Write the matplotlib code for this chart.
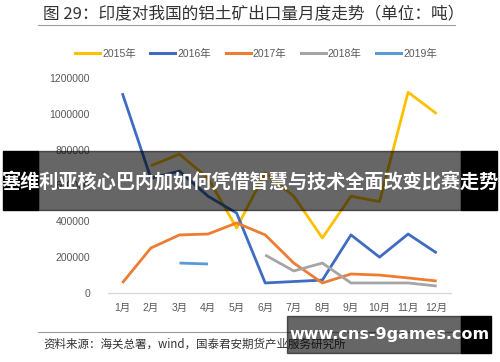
import numpy as np
import matplotlib
matplotlib.use("Agg")
import matplotlib.pyplot as plt
from matplotlib.patches import Rectangle
from matplotlib.lines import Line2D

plt.rcParams['font.family'] = ['Liberation Sans', 'Noto Sans CJK SC', 'DejaVu Sans']

months = ["1月", "2月", "3月", "4月", "5月", "6月", "7月", "8月", "9月", "10月", "11月", "12月"]
nan = np.nan
y2015 = [nan, 710000, 775000, 640000, 363000, 670000, 540000, 307000, 540000, 510000, 1120000, 1000000]
y2016 = [1115000, 640000, 680000, 540000, 446000, 56000, 64000, 72000, 324000, 200000, 329000, 223000]
y2017 = [56000, 251000, 324000, 329000, 391000, 324000, 167000, 56000, 106000, 100000, 84000, 67000]
y2018 = [nan, nan, nan, nan, nan, 212000, 123000, 167000, 56000, 56000, 56000, 39000]
y2019 = [nan, nan, 167000, 162000, nan, nan, nan, nan, nan, nan, nan, nan]
series = ["2015年", "2016年", "2017年", "2018年", "2019年"]
colors = ["#FFC000", "#3F6CC2", "#ED7D31", "#A5A5A5", "#5B9BD5"]
yticks = [0, 200000, 400000, 600000, 800000, 1000000, 1200000]

W, H = 500, 362
def fx(x):
    return x / W
def fy(y):
    return 1 - y / H

fig = plt.figure(figsize=(5, 3.62), dpi=100)
fig.patch.set_facecolor("white")

ax = fig.add_axes([fx(108), fy(293), (451 - 108) / W, (293 - 60) / H])
x = np.arange(1, 13)
data = [y2015, y2016, y2017, y2018, y2019]
for i, (vals, c, name) in enumerate(zip(data, colors, series)):
    ax.plot(x, vals, color=c, lw=2.0, label=name, zorder=2 + i, solid_capstyle="butt")

ax.set_xlim(0.5, 12.5)
ax.set_ylim(0, 1300000)
ax.set_xticks(x)
ax.set_xticklabels(months, fontsize=7.5, color="#595959")
ax.set_yticks(yticks)
ax.set_yticklabels([str(v) for v in yticks], fontsize=7.5, color="#595959")
ax.tick_params(axis="y", length=0, pad=13)
ax.tick_params(axis="x", length=0, pad=7)
for s in ["top", "right", "left"]:
    ax.spines[s].set_visible(False)
ax.spines["bottom"].set_color("#D9D9D9")
ax.spines["bottom"].set_linewidth(1.0)
ax.patch.set_alpha(0)

handles = [Line2D([0], [0], color=c, lw=2.2) for c in colors]
fig.legend(handles, series, loc="center", bbox_to_anchor=(fx(256), fy(54)), ncol=5,
           frameon=False, fontsize=7.5, handlelength=2.4, handletextpad=0.2,
           columnspacing=1.4, labelcolor="#595959")

# title and source
fig.text(fx(43), fy(14), "图 29：印度对我国的铝土矿出口量月度走势（单位：吨）",
         fontsize=12, color="#333333", va="center", ha="left",
         family=["Noto Sans CJK SC", "DejaVu Sans"])
fig.add_artist(Line2D([fx(38), fx(455)], [fy(25), fy(25)], color="#9A9A9A", lw=0.8))
fig.add_artist(Line2D([fx(38), fx(455)], [fy(332), fy(332)], color="#9A9A9A", lw=0.8))
fig.text(fx(43), fy(344), "资料来源：海关总署，wind，国泰君安期货产业服务研究所",
         fontsize=8.3, color="#333333", va="center", ha="left",
         family=["Noto Sans CJK SC", "DejaVu Sans"])

# overlay banner
fig.add_artist(Rectangle((fx(3), fy(210)), (38 - 3) / W, (210 - 151) / H,
                         transform=fig.transFigure, color="black", zorder=20))
fig.add_artist(Rectangle((fx(461), fy(210)), (497 - 461) / W, (210 - 151) / H,
                         transform=fig.transFigure, color="black", zorder=20))
fig.add_artist(Rectangle((fx(38), fy(210)), (461 - 38) / W, (210 - 151) / H,
                         transform=fig.transFigure, color="black", alpha=0.6, zorder=20))
fig.text(fx(250), fy(182), "塞维利亚核心巴内加如何凭借智慧与技术全面改变比赛走势",
         fontsize=13.8, color="white", fontweight="bold", ha="center", va="center",
         family=["Noto Sans CJK SC", "DejaVu Sans"], zorder=21)

# watermark
fig.add_artist(Rectangle((fx(287), fy(353)), (461 - 287) / W, (353 - 316) / H,
                         transform=fig.transFigure, color="black", alpha=0.6, zorder=20))
fig.add_artist(Rectangle((fx(461), fy(353)), (491 - 461) / W, (353 - 316) / H,
                         transform=fig.transFigure, color="black", zorder=20))
fig.text(fx(389), fy(335), "www.cns-9games.com", fontsize=11.5, color="white",
         fontweight="bold", ha="center", va="center", family=["DejaVu Sans"], zorder=21)

fig.savefig("out.png", dpi=100)
